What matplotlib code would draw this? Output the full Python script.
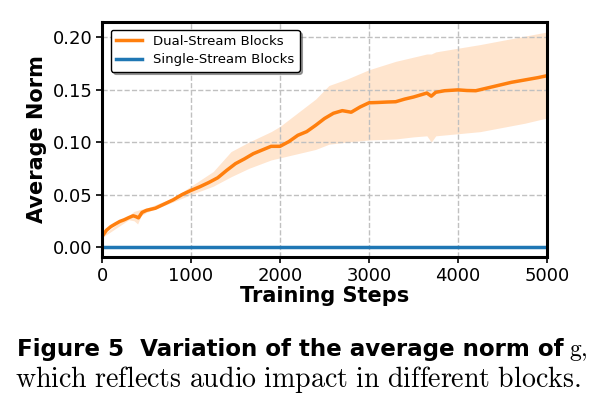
import matplotlib
matplotlib.use("Agg")
import matplotlib.pyplot as plt
import numpy as np

# Data
steps = [0, 50, 100, 150, 200, 250, 300, 350, 380, 410, 450, 500, 600, 700, 800, 900,
         1000, 1100, 1200, 1300, 1400, 1500, 1600, 1700, 1800, 1900, 2000, 2100, 2200,
         2300, 2400, 2500, 2600, 2700, 2800, 2900, 3000, 3100, 3200, 3300, 3400, 3500,
         3600, 3650, 3700, 3750, 3850, 4000, 4100, 4200, 4300, 4400, 4500, 4600, 4700,
         4800, 4900, 5000]
dual_mean = [0.010, 0.016, 0.0195, 0.022, 0.0244, 0.026, 0.028, 0.0298, 0.0290, 0.0278,
             0.033, 0.0350, 0.0370, 0.041, 0.045, 0.050, 0.054, 0.0575, 0.0615, 0.066,
             0.073, 0.0795, 0.084, 0.089, 0.0925, 0.096, 0.0960, 0.1005, 0.1065, 0.110,
             0.116, 0.1225, 0.1275, 0.1300, 0.1285, 0.1335, 0.1375, 0.1378, 0.1382,
             0.1385, 0.1410, 0.1430, 0.1455, 0.1468, 0.1438, 0.1475, 0.1490, 0.1498,
             0.1492, 0.1490, 0.1510, 0.1530, 0.1550, 0.1570, 0.1585, 0.1600, 0.1615,
             0.1633]
band_steps = [0, 300, 360, 400, 440, 500, 800, 1000, 1250, 1450, 1650, 1900, 2000, 2200,
              2400, 2550, 2750, 3000, 3300, 3500, 3650, 3700, 3750, 4000, 4250, 4500,
              4750, 5000]
dual_upper = [0.011, 0.030, 0.034, 0.035, 0.036, 0.037, 0.047, 0.058, 0.072, 0.091, 0.100,
              0.110, 0.115, 0.128, 0.141, 0.154, 0.160, 0.169, 0.177, 0.181, 0.184, 0.184,
              0.186, 0.1895, 0.193, 0.197, 0.201, 0.205]
dual_lower = [0.009, 0.026, 0.025, 0.022, 0.030, 0.033, 0.043, 0.050, 0.058, 0.067, 0.075,
              0.083, 0.085, 0.089, 0.093, 0.098, 0.100, 0.102, 0.103, 0.105, 0.106, 0.100,
              0.106, 0.108, 0.110, 0.114, 0.118, 0.123]
single_steps = [0, 5000]
single_mean = [0.0, 0.0]

xticks = [0, 1000, 2000, 3000, 4000, 5000]
yticks = [0.00, 0.05, 0.10, 0.15, 0.20]

plt.rcParams['mathtext.fontset'] = 'cm'

W, H = 600, 411
fig = plt.figure(figsize=(6.0, 4.11), dpi=100)
ax = fig.add_axes([102 / W, 1 - 257 / H, 445 / W, 235 / H])

orange = '#ff7f0e'
blue = '#1f77b4'
ax.fill_between(band_steps, dual_lower, dual_upper, color=orange, alpha=0.2, linewidth=0)
ax.plot(steps, dual_mean, color=orange, lw=2.5, label='Dual-Stream Blocks')
ax.plot(single_steps, single_mean, color=blue, lw=2.5, label='Single-Stream Blocks')

ax.set_xlim(0, 5000)
ax.set_ylim(-0.0095, 0.2145)
ax.set_xticks(xticks)
ax.set_yticks(yticks)
ax.set_yticklabels([f"{v:.2f}" for v in yticks])
ax.tick_params(labelsize=13, length=4, width=1.2, colors='black', pad=3)
ax.grid(True, linestyle='--', color='#c0c0c0', linewidth=1.0)
for s in ax.spines.values():
    s.set_linewidth(2.2)
    s.set_color('black')

ax.set_xlabel('Training Steps', fontsize=15, fontweight='bold', labelpad=1)
ax.set_ylabel('Average Norm', fontsize=15, fontweight='bold', labelpad=4)

leg = ax.legend(loc='upper left', fontsize=9.5, frameon=True, shadow=True,
                fancybox=True, borderpad=0.4, handlelength=2.0, labelspacing=0.4,
                bbox_to_anchor=(0.005, 0.995))
leg.get_frame().set_edgecolor('black')
leg.get_frame().set_linewidth(1.0)
leg.get_frame().set_alpha(1.0)


def fit_text(x, y, s, target_w, ha='left', **kw):
    t = fig.text(x, y, s, fontsize=10, ha=ha, va='baseline', **kw)
    fig.canvas.draw()
    w = t.get_window_extent().width
    t.set_fontsize(10 * target_w / w)
    fig.canvas.draw()
    return t


t1 = fit_text(17 / W, 1 - 356 / H, 'Figure 5  Variation of the average norm of',
              550, fontweight='bold', family='DejaVu Sans')
bb = t1.get_window_extent()
fig.text((bb.x1 + 5) / W, 1 - 356 / H, r'$\mathrm{g},$', fontsize=17,
         ha='left', va='baseline')
fit_text(15 / W, 1 - 387 / H,
         r'$\mathrm{which\ reflects\ audio\ impact\ in\ different\ blocks.}$', 568)

fig.savefig('out.png', dpi=100)
